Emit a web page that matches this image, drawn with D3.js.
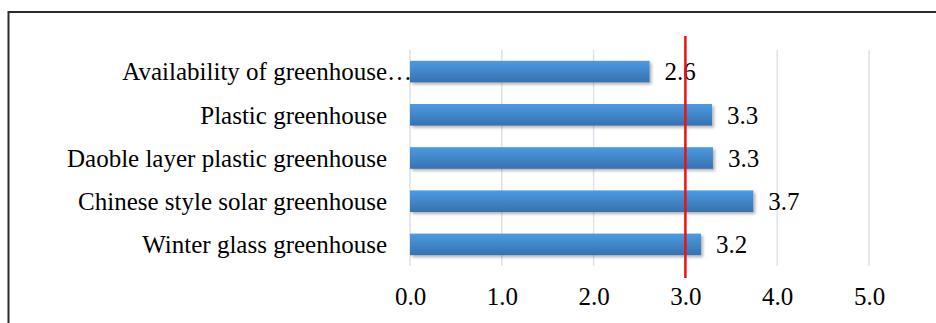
<!DOCTYPE html>
<html><head><meta charset="utf-8">
<script src="https://cdn.jsdelivr.net/npm/d3@7"></script>
<style>
html,body{margin:0;padding:0;background:#fff;}
svg{display:block;}
text{font-family:"Liberation Serif","Times New Roman",serif;fill:#000;}
</style></head>
<body>
<svg id="chart" width="936" height="323"></svg>
<script>
const categories = ["Availability of greenhouse", "Plastic greenhouse", "Daoble layer plastic greenhouse", "Chinese style solar greenhouse", "Winter glass greenhouse"];
const truncated = [true, false, false, false, false];
const values = [2.61, 3.29, 3.30, 3.74, 3.17];
const valueLabels = ["2.6", "3.3", "3.3", "3.7", "3.2"];
const xTicks = [0, 1, 2, 3, 4, 5];
const referenceValue = 3.0;

const svg = d3.select("#chart");
const FS = 25;
const plot = {left: 410, right: 869, top: 50, bottom: 266};

const defs = svg.append("defs");
const grad = defs.append("linearGradient").attr("id", "barGrad").attr("x1", 0).attr("y1", 0).attr("x2", 0).attr("y2", 1);
grad.append("stop").attr("offset", "0%").attr("stop-color", "#4c9be2");
grad.append("stop").attr("offset", "100%").attr("stop-color", "#3671ae");
const filt = defs.append("filter").attr("id", "shadow").attr("x", "-5%").attr("y", "-30%").attr("width", "115%").attr("height", "180%");
filt.append("feDropShadow").attr("dx", 2).attr("dy", 2).attr("stdDeviation", 1.5).attr("flood-color", "#000").attr("flood-opacity", 0.3);

// frame (cropped)
svg.append("rect").attr("x", 8.5).attr("y", 12).attr("width", 1000).attr("height", 400)
  .attr("fill", "none").attr("stroke", "#2b2b2b").attr("stroke-width", 2);

const x = d3.scaleLinear().domain([0, 5]).range([plot.left, plot.right]);
const y = d3.scaleBand().domain(categories).range([plot.top, plot.bottom]).paddingInner(0.5).paddingOuter(0.25);

// gridlines
svg.append("g").selectAll("line").data(xTicks).join("line")
  .attr("x1", d => x(d)).attr("x2", d => x(d))
  .attr("y1", plot.top).attr("y2", plot.bottom)
  .attr("stroke", "#dde2ea").attr("stroke-width", 1.5);

// x tick labels
const xAxis = d3.axisBottom(x).tickValues(xTicks).tickFormat(d3.format(".1f")).tickSize(0).tickPadding(0);
const gx = svg.append("g").attr("transform", `translate(0,${plot.bottom + 31})`).call(xAxis);
gx.select(".domain").remove();
gx.selectAll("text").attr("font-size", FS).attr("font-family", "Liberation Serif").attr("fill", "#000").attr("dy", "0.32em");

// bars
svg.append("g").selectAll("rect").data(values).join("rect")
  .attr("x", x(0)).attr("y", (d, i) => y(categories[i]))
  .attr("width", d => x(d) - x(0)).attr("height", y.bandwidth())
  .attr("fill", "url(#barGrad)").attr("filter", "url(#shadow)");

// category labels
const lab = svg.append("g").selectAll("g").data(categories).join("g");
lab.append("text")
  .attr("x", plot.left - 23).attr("y", d => y(d) + y.bandwidth() / 2).attr("dy", "0.35em")
  .attr("text-anchor", "end").attr("font-size", FS).text(d => d);
lab.filter((d, i) => truncated[i]).append("text")
  .attr("x", plot.left - 23).attr("y", d => y(d) + y.bandwidth() / 2).attr("dy", "0.35em")
  .attr("text-anchor", "start").attr("font-size", FS).text("…");

// value labels
svg.append("g").selectAll("text").data(values).join("text")
  .attr("x", d => x(d) + 15).attr("y", (d, i) => y(categories[i]) + y.bandwidth() / 2).attr("dy", "0.35em")
  .attr("font-size", FS).text((d, i) => valueLabels[i]);

// reference line
svg.append("line").attr("x1", x(referenceValue)).attr("x2", x(referenceValue))
  .attr("y1", 36).attr("y2", 278).attr("stroke", "#ee1111").attr("stroke-width", 2.5);
</script>
</body></html>
